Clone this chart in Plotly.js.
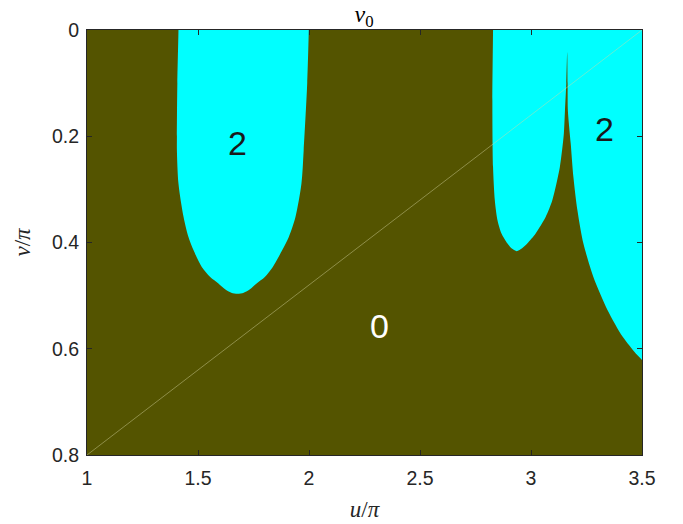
<!DOCTYPE html>
<html>
<head>
<meta charset="utf-8">
<script src="https://cdn.plot.ly/plotly-3.0.1.min.js"></script>
<style>
  body { margin: 0; padding: 0; background: #ffffff; }
  #myDiv { width: 683px; height: 524px; }
</style>
</head>
<body>
<div id="myDiv"></div>
<script>
// boundary of the left "2" region (u/pi, v/pi)
var lobeU = [1.412, 1.412, 1.407, 1.405, 1.405, 1.412, 1.435, 1.457, 1.480, 1.517, 1.555, 1.592, 1.622, 1.650, 1.678,
             1.706, 1.734, 1.764, 1.801, 1.837, 1.879, 1.909, 1.939, 1.966, 1.976, 1.992, 1.999, 1.999];
var lobeV = [-0.03, 0, 0.1, 0.2, 0.2266, 0.289, 0.352, 0.3896, 0.4146, 0.446, 0.4648, 0.477, 0.488, 0.4945, 0.4965,
             0.4945, 0.488, 0.477, 0.4648, 0.446, 0.4146, 0.3896, 0.352, 0.289, 0.2266, 0.1, 0, -0.03];

// boundary of the right "2" region (bump + cusp + tail)
var tailU = [2.829, 2.829, 2.826, 2.829, 2.837, 2.849, 2.867, 2.894, 2.912, 2.936, 2.960, 2.983, 3.021, 3.066,
             3.096, 3.130, 3.148, 3.153, 3.159, 3.163, 3.165, 3.166, 3.179, 3.191, 3.209, 3.236,
             3.281, 3.345, 3.413, 3.472, 3.500, 3.530, 3.530];
var tailV = [-0.03, 0, 0.1325, 0.258, 0.3205, 0.358, 0.383, 0.402, 0.411, 0.4165, 0.411, 0.402, 0.383, 0.352,
             0.3205, 0.258, 0.195, 0.151, 0.1, 0.042, 0.1, 0.151, 0.214, 0.2768, 0.3394, 0.402,
             0.4648, 0.5274, 0.5776, 0.6088, 0.621, 0.64, -0.03];

// thin diagonal
var diagU = [1, 3.5];
var diagV = [0.8, 0];

// region labels
var labelU = [1.678, 3.33, 2.319];
var labelV = [0.213, 0.186, 0.557];
var labelText = ['2', '2', '0'];
var labelColor = ['#1a1a1a', '#1a1a1a', '#ffffff'];

var olive = '#545400';
var cyan = '#00ffff';
var axisColor = '#262626';

var data = [{
  x: lobeU, y: lobeV,
  type: 'scatter', mode: 'lines',
  fill: 'toself', fillcolor: cyan,
  line: {width: 0, color: cyan, shape: 'spline', smoothing: 0.8},
  hoverinfo: 'skip'
},{
  x: tailU, y: tailV,
  type: 'scatter', mode: 'lines',
  fill: 'toself', fillcolor: cyan,
  line: {width: 0, color: cyan, shape: 'spline', smoothing: 0.7},
  hoverinfo: 'skip'
},{
  x: diagU, y: diagV,
  type: 'scatter', mode: 'lines',
  line: {width: 0.6, color: 'rgba(215,215,160,0.75)'},
  hoverinfo: 'skip'
}];

var annotations = labelText.map(function(t, i){
  return {
    x: labelU[i], y: labelV[i], xref: 'x', yref: 'y',
    text: t, showarrow: false,
    font: {family: 'Liberation Sans, Arial, sans-serif', size: 34, color: labelColor[i]}
  };
});

var tickFont = {family: 'Liberation Sans, Arial, sans-serif', size: 19.5, color: axisColor};
var serifFont = {family: 'Liberation Serif, DejaVu Serif, serif', size: 23, color: axisColor};

var layout = {
  width: 683,
  height: 524,
  margin: {l: 87, r: 41, t: 30, b: 69, pad: 0},
  paper_bgcolor: '#ffffff',
  plot_bgcolor: olive,
  showlegend: false,
  title: {
    text: '<i>ν</i><sub>0</sub>',
    font: {family: 'Liberation Serif, DejaVu Serif, serif', size: 24, color: '#000000'},
    x: 0.533, xanchor: 'center',
    y: 0.974, yanchor: 'middle'
  },
  xaxis: {
    range: [1, 3.5],
    tickvals: [1, 1.5, 2, 2.5, 3, 3.5],
    ticktext: ['1', '1.5', '2', '2.5', '3', '3.5'],
    ticks: 'inside', ticklen: 5, tickcolor: axisColor, tickwidth: 1,
    showline: true, linecolor: axisColor, linewidth: 1, mirror: 'ticks',
    showgrid: false, zeroline: false,
    tickfont: tickFont,
    ticklabelstandoff: 6,
    title: {text: '<i>u</i>/<i>π</i>', font: serifFont, standoff: 12}
  },
  yaxis: {
    range: [0.8, 0],
    tickvals: [0, 0.2, 0.4, 0.6, 0.8],
    ticktext: ['0', '0.2', '0.4', '0.6', '0.8'],
    ticks: 'inside', ticklen: 5, tickcolor: axisColor, tickwidth: 1,
    showline: true, linecolor: axisColor, linewidth: 1, mirror: 'ticks',
    showgrid: false, zeroline: false,
    tickfont: tickFont,
    ticklabelstandoff: 3,
    title: {text: '<i>v</i>/<i>π</i>', font: serifFont, standoff: 14}
  },
  annotations: annotations
};

Plotly.newPlot('myDiv', data, layout, {staticPlot: true, displayModeBar: false});
</script>
</body>
</html>
